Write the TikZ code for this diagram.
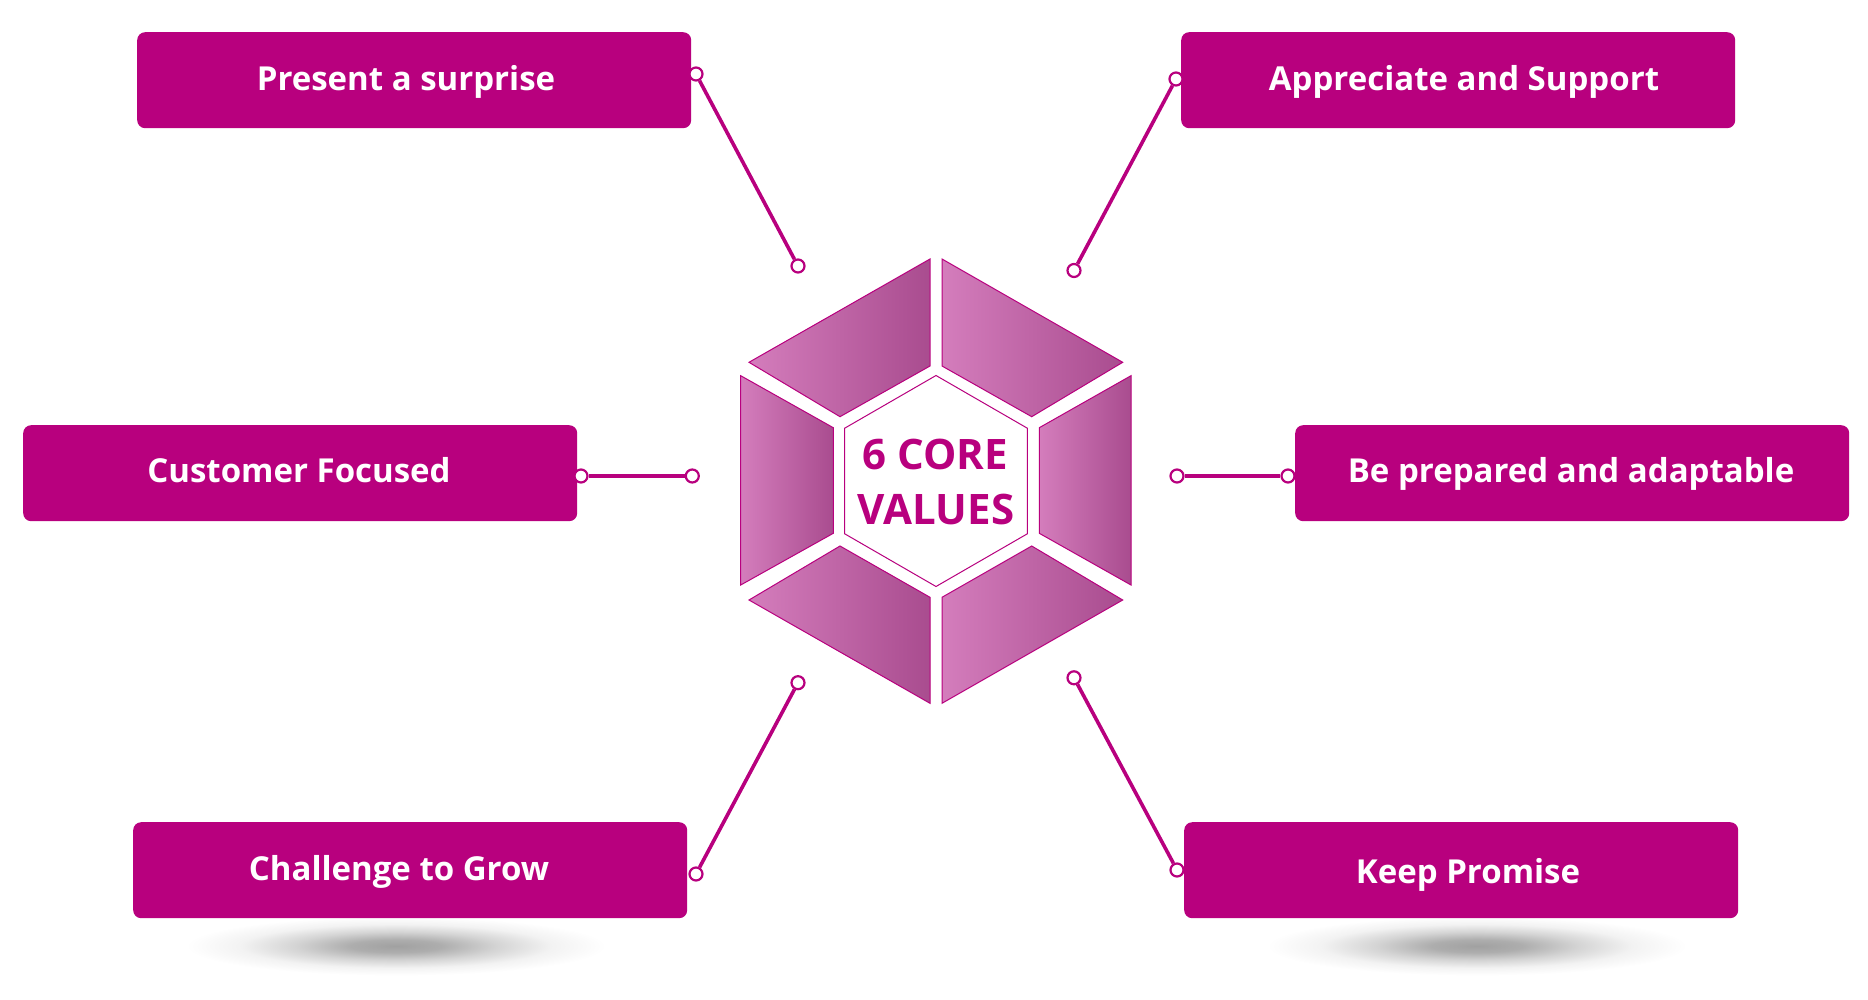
\documentclass[tikz,border=0pt]{standalone}
\usepackage{fontspec}
\setmainfont{Open Sans}
\definecolor{mag}{HTML}{B8007E}
\definecolor{gradL}{HTML}{D47DBC}
\definecolor{gradR}{HTML}{A94C8F}
\pgfdeclareradialshading{shadowfade}{\pgfpoint{0bp}{0bp}}{color(0bp)=(black!37); color(5bp)=(black!32); color(11bp)=(black!17); color(17bp)=(black!5); color(23bp)=(white); color(50bp)=(white)}
\begin{document}
\begin{tikzpicture}[x=1pt,y=-1pt,
  valbox/.style={fill=mag, rounded corners=8pt, draw=none, minimum width=554pt, minimum height=96pt, inner sep=0pt, anchor=north west},
  valtext/.style={text=white, font=\bfseries\fontsize{33}{37}\selectfont, anchor=base, inner sep=0pt},
  coretext/.style={text=mag, font=\bfseries\fontsize{42}{46}\selectfont, anchor=base, inner sep=0pt},
  piece/.style={left color=gradL, right color=gradR, draw=mag, line width=1pt},
  link/.style={draw=mag, line width=3.6pt},
  dot/.style={circle, draw=mag, fill=white, line width=2.2pt, minimum size=13pt, inner sep=0pt}]
\useasboundingbox (0,0) rectangle (1868,1000);
\fill[white] (0,0) rectangle (1868,1000);

% shadows
\shade[shading=shadowfade] (396,946) ellipse [x radius=228, y radius=32];
\shade[shading=shadowfade] (1477,946) ellipse [x radius=228, y radius=32];

% boxes
\node[valbox] (b1) at (137,32) {};
\node[valbox] (b2) at (1181,32) {};
\node[valbox] (b3) at (23,425) {};
\node[valbox] (b4) at (1295,425) {};
\node[valbox] (b5) at (133,822) {};
\node[valbox] (b6) at (1184,822) {};

\node[valtext] (t1) at (406,91) {Present a surprise};
\node[valtext] (t2) at (1464,91) {Appreciate and Support};
\node[valtext] (t3) at (299,482) {Customer Focused};
\node[valtext] (t4) at (1571,482) {Be prepared and adaptable};
\node[valtext] (t5) at (399,880) {Challenge to Grow};
\node[valtext] (t6) at (1468,883) {Keep Promise};

% hexagon pieces
\path[piece] (930,259) -- (930,366) -- (840,416.7) -- (749,362.3) -- cycle;
\path[piece] (942,259) -- (1122.7,362.3) -- (1031.7,416.7) -- (942,366) -- cycle;
\path[piece] (740.7,375.7) -- (833.3,427.7) -- (833.3,533.3) -- (740.7,585) -- cycle;
\path[piece] (1039.3,427.7) -- (1131,375.7) -- (1131,585) -- (1039.3,533.3) -- cycle;
\path[piece] (749,600) -- (840,546) -- (930,597.3) -- (930,703.3) -- cycle;
\path[piece] (942,597.3) -- (1031.7,546) -- (1122.7,600) -- (942,703.3) -- cycle;

% inner hexagon
\draw[mag, line width=1pt, fill=white] (936,375.5) -- (1027.4,428.25) -- (1027.4,533.75) -- (936,586.5) -- (844.6,533.75) -- (844.6,428.25) -- cycle;
\node[coretext] (core1) at (935,469) {6 CORE};
\node[coretext] (core2) at (936,524) {VALUES};

% connectors
\node[dot] (c1a) at (696,74) {};
\node[dot] (c1b) at (798,266) {};
\node[dot] (c2a) at (1176,79) {};
\node[dot] (c2b) at (1074,270.5) {};
\node[dot] (c3a) at (581,476) {};
\node[dot] (c3b) at (692.3,476) {};
\node[dot] (c4a) at (1177,476) {};
\node[dot] (c4b) at (1288,476) {};
\node[dot] (c5a) at (696,874) {};
\node[dot] (c5b) at (798,682.7) {};
\node[dot] (c6a) at (1177,870) {};
\node[dot] (c6b) at (1074,677.8) {};

\draw[link] (c1a) -- (c1b);
\draw[link] (c2a) -- (c2b);
\draw[link] (c3a) -- (c3b);
\draw[link] (c4a) -- (c4b);
\draw[link] (c5a) -- (c5b);
\draw[link] (c6a) -- (c6b);
\end{tikzpicture}
\end{document}
